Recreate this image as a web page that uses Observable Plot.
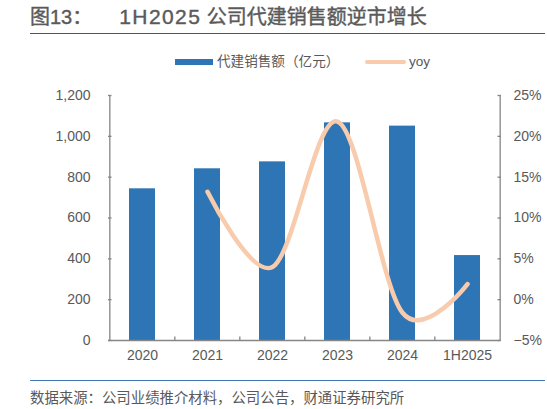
<!DOCTYPE html>
<html>
<head>
<meta charset="utf-8">
<script src="https://cdn.jsdelivr.net/npm/d3@7"></script>
<script src="https://cdn.jsdelivr.net/npm/@observablehq/plot@0.6"></script>
<style>
  html, body { margin: 0; padding: 0; background: #fff; }
  body { width: 547px; height: 409px; position: relative; overflow: hidden;
         font-family: "Liberation Sans", "Noto Sans CJK SC", sans-serif; color: #595959; }
  #title { position: absolute; left: 30px; top: 3px; font-size: 20px; line-height: 28px; font-weight: normal; color: #5a5a5a; white-space: nowrap; -webkit-text-stroke: 0.4px #5a5a5a; }
  #title .gap { display: inline-block; width: 27px; }
  #title .lat { font-size: 21px; letter-spacing: 1.4px; }
  #topline { position: absolute; left: 30px; top: 32.5px; width: 515px; height: 1.5px; background: #1f5fad; }
  #legend { position: absolute; top: 53px; left: 0; width: 547px; height: 18px; font-size: 13.6px; }
  .lg { position: absolute; top: 0; line-height: 18px; white-space: nowrap; }
  #chart { position: absolute; left: 0; top: 72px; }
  #botline { position: absolute; left: 30px; top: 379.5px; width: 515px; height: 1.5px; background: #3f74b5; }
  #caption { position: absolute; left: 30px; top: 389px; font-size: 14.4px; line-height: 19px; color: #595959; white-space: nowrap; }
</style>
</head>
<body>
<div id="title">图13：<span class="gap"></span><span class="lat">1H2025</span> 公司代建销售额逆市增长</div>
<div id="topline"></div>
<div id="legend">
  <div class="lg" style="left:175px;top:6px;width:38px;height:6px;background:#2E75B6"></div>
  <div class="lg" style="left:217px">代建销售额（亿元）</div>
  <div class="lg" style="left:365px;top:7px;width:41px;height:4px;border-radius:2px;background:#F8CBAD"></div>
  <div class="lg" style="left:409px">yoy</div>
</div>
<div id="chart"></div>
<div id="botline"></div>
<div id="caption">数据来源：公司业绩推介材料，公司公告，财通证券研究所</div>
<script>
// ---- data ----
const categories = ["2020", "2021", "2022", "2023", "2024", "1H2025"];
const sales = [743, 841, 875, 1066, 1050, 416];           // 亿元
const yoyCategories = ["2021", "2022", "2023", "2024", "1H2025"];
const yoy = [13.2, 4.0, 21.8, -1.6, 1.9];                  // %
const leftTicks = [0, 200, 400, 600, 800, 1000, 1200];
const rightTicks = [-5, 0, 5, 10, 15, 20, 25];

// ---- layout ----
const W = 547, H = 300;
const mL = 108, mR = 47, mT = 23, mB = 32;
const step = (W - mL - mR) / categories.length;
const yMax = 1200, rMin = -5, rMax = 25;
const toLeft = v => (v - rMin) / (rMax - rMin) * yMax;   // right-axis % -> left scale
const pxPerUnit = (H - mT - mB) / yMax;
const tickUnits = 3.5 / pxPerUnit;

const barData = categories.map((c, i) => ({c, v: sales[i]}));
const lineData = yoyCategories.map((c, i) => ({c, v: yoy[i]}));
const fmtPct = d => (d < 0 ? "\u2212" + Math.abs(d) : d) + "%";

const axisColor = "#868686";

const chart = Plot.plot({
  width: W, height: H,
  marginLeft: mL, marginRight: mR, marginTop: mT, marginBottom: mB,
  style: {fontFamily: "'Liberation Sans', 'Noto Sans CJK SC', sans-serif", fontSize: "14px", color: "#595959", background: "transparent"},
  x: {type: "band", domain: categories, paddingInner: 0.6, paddingOuter: 0.3},
  y: {domain: [0, yMax]},
  marks: [
    Plot.barY(barData, {x: "c", y: "v", fill: "#2E75B6"}),
    // axis lines
    Plot.ruleY([0], {stroke: axisColor, strokeWidth: 1.3}),
    Plot.ruleX([categories[0]], {x: d => d, dx: -step / 2, y1: 0, y2: yMax, stroke: axisColor, strokeWidth: 1.3}),
    Plot.ruleX([categories[categories.length - 1]], {x: d => d, dx: step / 2, y1: 0, y2: yMax, stroke: axisColor, strokeWidth: 1.3}),
    // category boundary ticks (inward)
    Plot.ruleX(categories.slice(1), {x: d => d, dx: -step / 2, y1: 0, y2: tickUnits, stroke: axisColor, strokeWidth: 1.3}),
    // yoy line
    Plot.line(lineData, {x: "c", y: d => toLeft(d.v), curve: "cardinal", tension: 0, stroke: "#F8CBAD", strokeWidth: 4.5, strokeLinecap: "round"}),
    Plot.axisY(leftTicks, {anchor: "left", tickSize: -3.5, tickPadding: 21.5, tickFormat: d3.format(","), stroke: axisColor, strokeWidth: 1.3, label: null}),
    Plot.axisY(rightTicks.map(toLeft), {anchor: "right", tickSize: -3.5, tickPadding: 16.5, tickFormat: d => fmtPct(Math.round(d / yMax * (rMax - rMin) + rMin)), stroke: axisColor, strokeWidth: 1.3, label: null}),
    Plot.axisX({tickSize: 0, tickPadding: 10, label: null})
  ]
});
document.getElementById("chart").appendChild(chart);
</script>
</body>
</html>
